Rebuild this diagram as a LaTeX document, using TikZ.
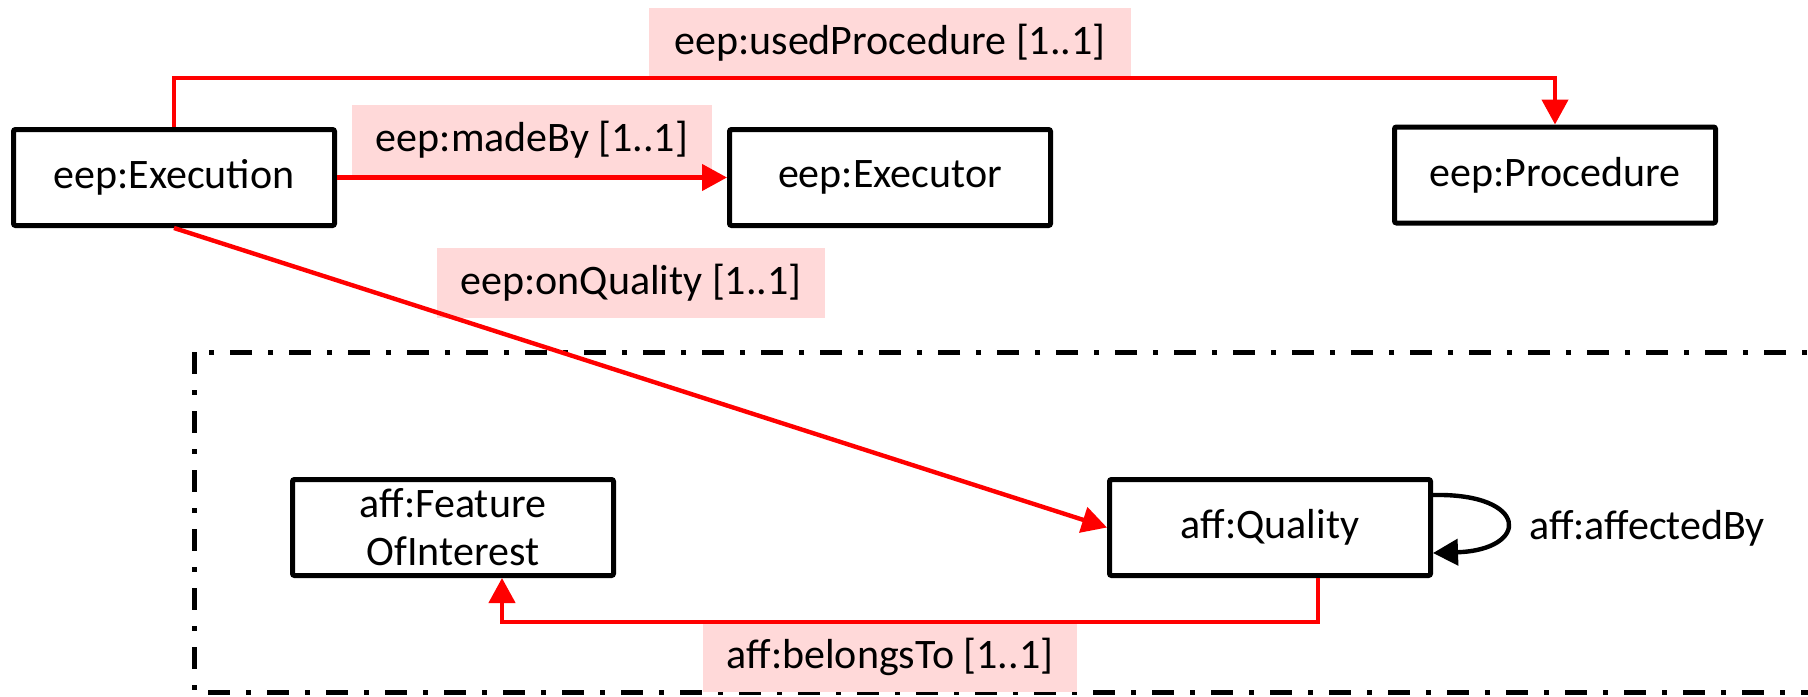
\documentclass[tikz,border=0pt]{standalone}
\usepackage{fontspec}
\setmainfont{Carlito}
\usetikzlibrary{arrows.meta}
\definecolor{relred}{RGB}{255,0,0}
\definecolor{lblpink}{RGB}{255,217,217}
\begin{document}
\begin{tikzpicture}[x=.5pt, y=-.5pt, >={Triangle[length=12.5pt,width=13pt]},
  font=\fontsize{21}{24}\selectfont,
  cls/.style={draw, line width=2.5pt, minimum width=160.5pt, minimum height=48pt, inner ysep=1pt, align=center, rounded corners=1pt},
  lbl/.style={fill=lblpink, inner xsep=11.75pt, minimum height=35pt},
  rel/.style={relred, line width=2.2pt, ->}]
\useasboundingbox (0,0) rectangle (1808,696);
% module frame
\draw[line width=2.5pt, dash pattern=on 11pt off 8pt on 2.5pt off 8pt](194,352) rectangle (1830,692);
% classes
\node[cls] (exec) at (174,177.5) {eep:Execution};
\node[cls] (executor) at (890,177.5) {eep:Executor};
\node[cls] (proc) at (1555,175) {eep:Procedure};
\node[cls] (foi) at (453,527.5) {aff:Feature\\OfInterest};
\node[cls] (qual) at (1270,527.5) {aff:Quality};
% property labels
\node[lbl, minimum width=241pt] (usedlbl) at (890,43) {eep:usedProcedure [1..1]};
\node[lbl] (madelbl) at (532,140) {eep:madeBy [1..1]};
\node[lbl] (onlbl) at (631,283) {eep:onQuality [1..1]};
\node[lbl] (belonglbl) at (890,657) {aff:belongsTo [1..1]};
\node (affectlbl) at (1647,528) {aff:affectedBy};
% relations
\coordinate (usedbend) at (1555,78);
\coordinate (belongbend) at (502,622);
\draw[rel](exec.north) |- (usedbend) -- (proc.north);
\draw[rel](exec.east) -- (executor.west);
\draw[rel](exec.south) -- (qual.west);
\draw[rel]([xshift=24pt]qual.south) |- (belongbend) -- ([xshift=24.5pt]foi.south);
\draw[line width=2.2pt, ->]([yshift=16.25pt]qual.east) .. controls (1530,493) and (1530,550) .. ([yshift=-12.75pt]qual.east);
\end{tikzpicture}
\end{document}
